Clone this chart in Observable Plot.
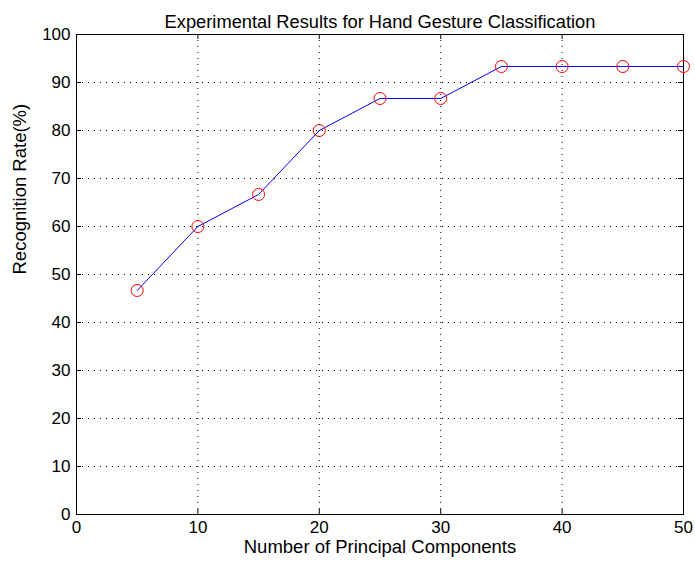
<!DOCTYPE html>
<html>
<head>
<meta charset="utf-8">
<script src="https://cdn.jsdelivr.net/npm/d3@7"></script>
<script src="https://cdn.jsdelivr.net/npm/@observablehq/plot@0.6"></script>
<style>
  body { margin: 0; background: #fff; }
</style>
</head>
<body>
<div id="chart"></div>
<script>
const components = [5, 10, 15, 20, 25, 30, 35, 40, 45, 50];
const recognitionRate = [46.67, 60, 66.67, 80, 86.67, 86.67, 93.33, 93.33, 93.33, 93.33];
const xTicks = [0, 10, 20, 30, 40, 50];
const yTicks = [0, 10, 20, 30, 40, 50, 60, 70, 80, 90, 100];
const titleText = "Experimental Results for Hand Gesture Classification";
const xLabel = "Number of Principal Components";
const yLabel = "Recognition Rate(%)";

const data = components.map((c, i) => ({x: c, y: recognitionRate[i]}));
const font = "Liberation Sans, Arial, Helvetica, sans-serif";

const W = 695, H = 567;
const mL = 76, mR = 12, mT = 34, mB = 53;
const pw = W - mL - mR, ph = H - mT - mB;
const tl = 5;

const chart = Plot.plot({
  width: W,
  height: H,
  marginLeft: mL,
  marginRight: mR,
  marginTop: mT,
  marginBottom: mB,
  style: {fontFamily: font, fontSize: "16px", background: "#fff", color: "#000"},
  x: {domain: [0, 50]},
  y: {domain: [0, 100]},
  marks: [
    Plot.gridX(xTicks.filter(d => d > 0 && d < 50), {stroke: "#000", strokeOpacity: 1, strokeWidth: 1, strokeDasharray: "1,5"}),
    Plot.gridY(yTicks.filter(d => d > 0 && d < 100), {stroke: "#000", strokeOpacity: 1, strokeWidth: 1, strokeDasharray: "1,5"}),
    Plot.tickX(xTicks, {x: d => d, insetTop: ph - tl, stroke: "#000"}),
    Plot.tickX(xTicks, {x: d => d, insetBottom: ph - tl, stroke: "#000"}),
    Plot.tickY(yTicks, {y: d => d, insetRight: pw - tl, stroke: "#000"}),
    Plot.tickY(yTicks, {y: d => d, insetLeft: pw - tl, stroke: "#000"}),
    Plot.frame({stroke: "#000", strokeWidth: 1}),
    Plot.axisX(xTicks, {tickSize: 0, tickPadding: 6, fontSize: 17, label: null}),
    Plot.axisY(yTicks, {tickSize: 0, tickPadding: 6, fontSize: 17, label: null}),
    Plot.text([xLabel], {frameAnchor: "bottom", dy: 38, fontSize: 18.5, text: d => d, fill: "#000"}),
    Plot.text([yLabel], {frameAnchor: "left", dx: -56, rotate: -90, fontSize: 18.5, text: d => d, fill: "#000"}),
    Plot.text([titleText], {frameAnchor: "top", dy: -20, fontSize: 18.3, text: d => d, fill: "#000"}),
    Plot.line(data, {x: "x", y: "y", stroke: "#0000ff", strokeWidth: 1}),
    Plot.dot(data, {x: "x", y: "y", r: 6, stroke: "#ff0000", fill: "none", strokeWidth: 1})
  ]
});
document.getElementById("chart").appendChild(chart);
</script>
</body>
</html>
